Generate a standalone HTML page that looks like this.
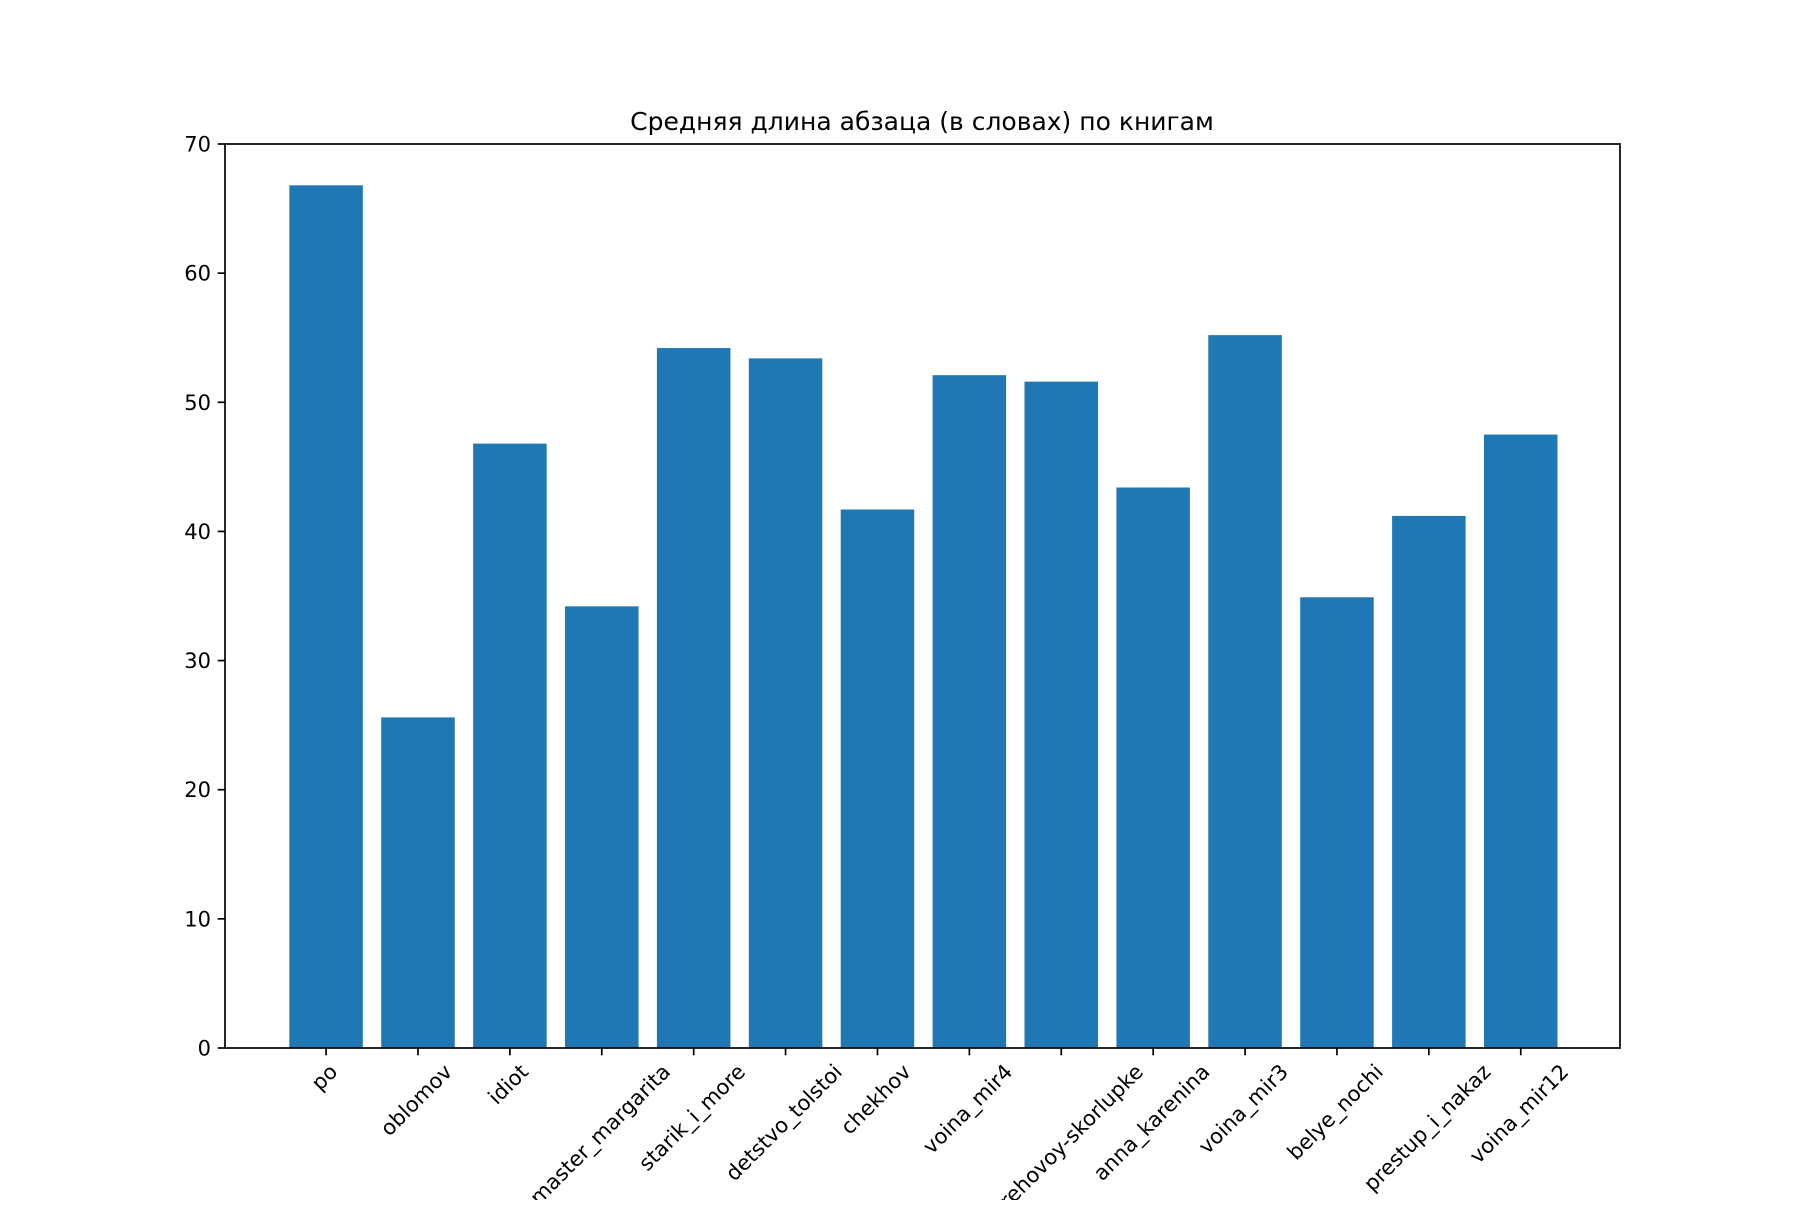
<!DOCTYPE html>
<html><head><meta charset="utf-8"><style>
html,body{margin:0;padding:0;background:#fff;overflow:hidden}
svg text{font-family:"DejaVu Sans","Liberation Sans",sans-serif;fill:#000}
</style></head><body>
<svg id="chart" width="1800" height="1200" xmlns="http://www.w3.org/2000/svg">
<rect width="1800" height="1200" fill="#fff"/>
<text x="922" y="130" font-size="25" text-anchor="middle">Средняя длина абзаца (в словах) по книгам</text>
<g id="bars"></g>
<g id="yaxis"></g>
<g id="xaxis"></g>
<rect x="225" y="144" width="1395" height="904" fill="none" stroke="#000" stroke-width="1.7"/>
</svg>
<script>
const categories = ["po","oblomov","idiot","master_margarita","starik_i_more","detstvo_tolstoi","chekhov","voina_mir4","v-orehovoy-skorlupke","anna_karenina","voina_mir3","belye_nochi","prestup_i_nakaz","voina_mir12"];
const values = [66.8,25.6,46.8,34.2,54.2,53.4,41.7,52.1,51.6,43.4,55.2,34.9,41.2,47.5];
const yTicks = [0,10,20,30,40,50,60,70];

const NS="http://www.w3.org/2000/svg";
const L=225,R=1620,T=144,B=1048;
const xMin=-1.1,xMax=14.08,yMin=0,yMax=70;
function xs(v){return L+(v-xMin)/(xMax-xMin)*(R-L);}
function ys(v){return B-(v-yMin)/(yMax-yMin)*(B-T);}
function mk(tag,attrs,parent){const e=document.createElementNS(NS,tag);for(const k in attrs)e.setAttribute(k,attrs[k]);parent.appendChild(e);return e;}
const bars=document.getElementById('bars'),ya=document.getElementById('yaxis'),xa=document.getElementById('xaxis');
const bw=0.8;
values.forEach((v,i)=>{
  const x0=xs(i-bw/2),x1=xs(i+bw/2);
  const r=mk('rect',{x:x0,y:ys(v),width:x1-x0,height:ys(0)-ys(v),fill:'#1f77b4'},bars);
  
  
});
yTicks.forEach(t=>{
  const y=ys(t);
  const l=mk('line',{x1:L-7.3,x2:L,y1:y,y2:y,stroke:'#000','stroke-width':1.7},ya);
  
  
  const tx=mk('text',{x:L-14,y:y+7.5,'font-size':21,'text-anchor':'end'},ya);
  tx.textContent=t;
  
  
});
categories.forEach((c,i)=>{
  const x=xs(i);
  const l=mk('line',{x1:x,x2:x,y1:B,y2:B+7.3,stroke:'#000','stroke-width':1.7},xa);
  
  
  const tx=mk('text',{x:0,y:0,'font-size':21,'text-anchor':'middle'},xa);
  tx.textContent=c;
  
  
  const w=tx.getComputedTextLength(),h=21;
  const half=(w+h)*0.7071/2;
  const cy=B+7.3+5+half;
  tx.setAttribute('transform','translate('+(x-2)+','+cy+') rotate(-45) translate(0,'+(h*0.36)+')');
});
</script>
</body></html>
